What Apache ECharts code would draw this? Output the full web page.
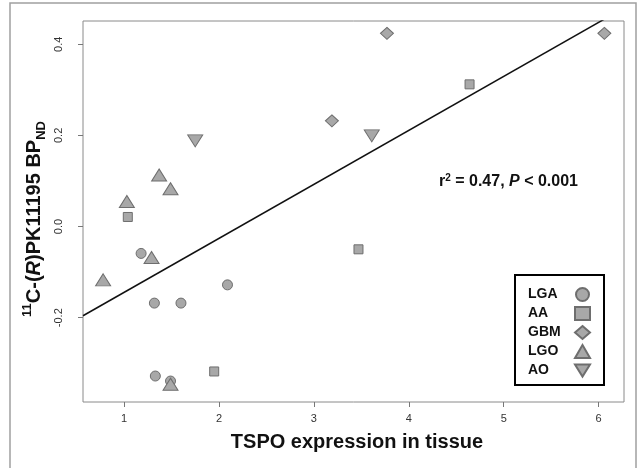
<!DOCTYPE html>
<html><head><meta charset="utf-8">
<script src="https://cdn.jsdelivr.net/npm/echarts@6/dist/echarts.min.js"></script>
<style>html,body{margin:0;padding:0;background:#fff}#c{width:641px;height:468px}</style>
</head><body><div id="c"></div>
<script>
// ---- data ----
const groups = ['LGA', 'AA', 'GBM', 'LGO', 'AO'];
const lgaX = [1.18, 1.32, 1.60, 2.09, 1.33, 1.49];
const lgaY = [-0.059, -0.168, -0.168, -0.128, -0.328, -0.339];
const aaX = [1.04, 1.95, 3.47, 4.64];
const aaY = [0.021, -0.318, -0.050, 0.312];
const gbmX = [3.19, 3.77, 6.06];
const gbmY = [0.232, 0.424, 0.424];
const lgoX = [0.78, 1.03, 1.29, 1.37, 1.49, 1.49];
const lgoY = [-0.117, 0.055, -0.068, 0.113, 0.083, -0.346];
const aoX = [1.75, 3.61];
const aoY = [0.188, 0.199];
const xTicks = [1, 2, 3, 4, 5, 6];
const yTicks = [-0.2, 0.0, 0.2, 0.4];
const xRange = [0.568, 6.267];
const yRange = [-0.385, 0.451];
const fitIntercept = -0.263;
const fitSlope = 0.1185;

const pairs = (xs, ys) => xs.map((x, i) => [x, ys[i]]);
const FILL = '#a8a8a8', EDGE = '#6e6e6e';
const FONT = '"Liberation Sans", Arial, Helvetica, sans-serif';

const symbols = {
  LGA: { symbol: 'circle', size: 10 },
  AA: { symbol: 'rect', size: 9 },
  GBM: { symbol: 'diamond', size: [13, 12] },
  LGO: { symbol: 'triangle', size: [15, 12] },
  AO: { symbol: 'path://M0,0L10,0L5,8Z', size: [15, 12] }
};
const dataByGroup = {
  LGA: pairs(lgaX, lgaY), AA: pairs(aaX, aaY), GBM: pairs(gbmX, gbmY),
  LGO: pairs(lgoX, lgoY), AO: pairs(aoX, aoY)
};

const scatterSeries = groups.map(g => ({
  name: g, type: 'scatter', data: dataByGroup[g],
  symbol: symbols[g].symbol, symbolSize: symbols[g].size,
  itemStyle: { color: FILL, borderColor: EDGE, borderWidth: 1, opacity: 1 },
  z: 3
}));

const fitSeries = {
  name: 'fit', type: 'line', symbol: 'none', clip: true, silent: true,
  data: xRange.map(x => [x, fitIntercept + fitSlope * x]),
  lineStyle: { color: '#111', width: 1.5 }, z: 4
};

const chart = echarts.init(document.getElementById('c'), null, { renderer: 'canvas' });
chart.setOption({
  animation: false,
  backgroundColor: '#fff',
  grid: { left: 83, top: 21, right: 17, bottom: 66, show: true, borderColor: '#8a8a8a', borderWidth: 1, backgroundColor: 'transparent' },
  xAxis: {
    type: 'value', min: xRange[0], max: xRange[1],
    axisLine: { show: false, onZero: false },
    splitLine: { show: false },
    axisTick: { show: true, length: 5, lineStyle: { color: '#777' }, customValues: xTicks },
    axisLabel: { customValues: xTicks, margin: 11, fontSize: 11, color: '#333', fontFamily: FONT, formatter: v => String(v) }
  },
  yAxis: {
    type: 'value', min: yRange[0], max: yRange[1],
    axisLine: { show: false, onZero: false },
    splitLine: { show: false },
    axisTick: { show: true, length: 5, lineStyle: { color: '#777' }, customValues: yTicks },
    axisLabel: { customValues: yTicks, rotate: 90, margin: 19, fontSize: 11, color: '#333', fontFamily: FONT, formatter: v => v.toFixed(1) }
  },
  legend: {
    data: groups, orient: 'vertical', align: 'right',
    left: 515, top: 275,
    padding: [12, 13, 7, 13],
    itemGap: 4, itemWidth: 15, itemHeight: 13,
    borderColor: '#000', borderWidth: 2,
    formatter: name => '{a|' + name + '}',
    textStyle: { fontSize: 14, fontWeight: 'bold', color: '#111', fontFamily: FONT, lineHeight: 15,
      rich: { a: { width: 42, align: 'left', fontSize: 14, fontWeight: 'bold', color: '#111', fontFamily: FONT } } }
  },
  graphic: [
    { type: 'rect', z: -10, shape: { x: 10, y: 3, width: 626, height: 480 }, style: { fill: 'none', stroke: '#a0a0a0', lineWidth: 1.5 } },
    { type: 'text', x: 357, y: 442, style: { text: 'TSPO expression in tissue', font: 'bold 20px ' + FONT, fill: '#111', align: 'center', verticalAlign: 'middle' } },
    { type: 'text', x: 34, y: 219, rotation: Math.PI / 2,
      style: { text: '{s|11}C-({i|R})PK11195 BP{b|ND}', font: 'bold 20px ' + FONT, fill: '#111', align: 'center', verticalAlign: 'middle',
        rich: {
          s: { fontSize: 13, fontWeight: 'bold', fontFamily: FONT, verticalAlign: 'top', lineHeight: 22, fill: '#111' },
          i: { fontSize: 20, fontWeight: 'bold', fontStyle: 'italic', fontFamily: FONT, fill: '#111' },
          b: { fontSize: 13, fontWeight: 'bold', fontFamily: FONT, verticalAlign: 'bottom', lineHeight: 27, fill: '#111' }
        } } },
    { type: 'text', x: 439, y: 182,
      style: { text: 'r{s|2} = 0.47, {i|P} < 0.001', font: 'bold 16px ' + FONT, fill: '#111', align: 'left', verticalAlign: 'middle',
        rich: {
          s: { fontSize: 10, fontWeight: 'bold', fontFamily: FONT, verticalAlign: 'top', lineHeight: 18, fill: '#111' },
          i: { fontSize: 16, fontWeight: 'bold', fontStyle: 'italic', fontFamily: FONT, fill: '#111' }
        } } }
  ],
  series: [...scatterSeries, fitSeries]
});
</script>
</body></html>
